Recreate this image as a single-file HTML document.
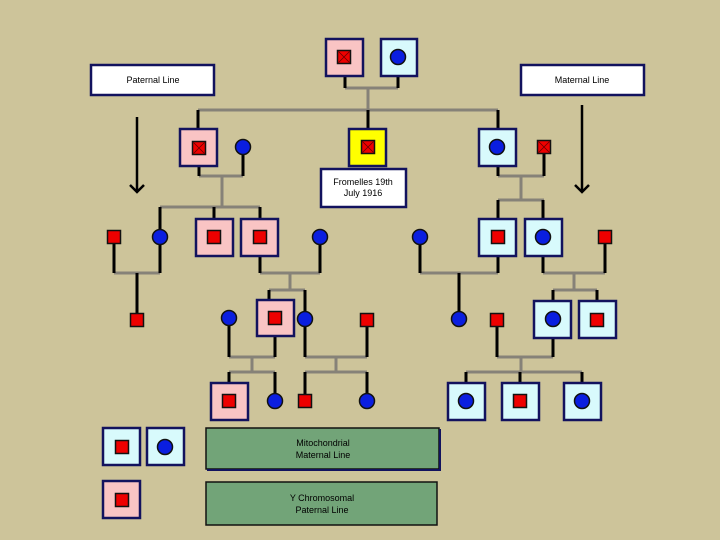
<!DOCTYPE html>
<html><head><meta charset="utf-8"><style>
html,body{margin:0;padding:0;background:#cdc49a;}
svg{display:block;}
text{font-family:"Liberation Sans",sans-serif;font-size:9px;fill:#000;}
</style></head><body>
<svg width="720" height="540" viewBox="0 0 720 540" xmlns="http://www.w3.org/2000/svg">
<defs>
<g id="rs"><rect x="-6.5" y="-6.5" width="13" height="13" fill="#ee0000" stroke="#111" stroke-width="1.5"/></g>
<g id="bc"><circle r="7.5" fill="#0a1ee0" stroke="#111" stroke-width="1.5"/></g>
</defs>
<rect width="720" height="540" fill="#cdc49a"/>
<g stroke="#868278" stroke-width="3" fill="none">
<path d="M345 88H398M368 88V110M198 110H498"/>
<path d="M199 176H243M222 176V207M160 207H260"/>
<path d="M498 176H544M521 176V200M498 200H544"/>
<path d="M114 273H160M260 273H320M290 273V290M269 290H305"/>
<path d="M420 273H498M543 273H605M574 273V290M553 290H597"/>
<path d="M229 357H275M252 357V372M229 372H275"/>
<path d="M305 357H367M336 357V372M305 372H367"/>
<path d="M497 357H553M521 357V372M466 372H582"/>
</g>
<g stroke="#000" stroke-width="3" fill="none">
<path d="M345 76V88M398 76V88M368 110V129M198 110V129M498 110V129"/>
<path d="M199 166V176M243 147V176M160 207V237M214 207V219M260 207V219"/>
<path d="M498 166V176M544 147V176M498 200V219M543 200V219"/>
<path d="M114 237V273M160 237V273M137 273V320M260 256V273M320 237V273M269 290V300M305 290V319"/>
<path d="M420 237V273M498 256V273M459 273V319M543 256V273M605 237V273M553 290V301M597 290V301"/>
<path d="M229 318V357M275 336V357M229 372V383M275 372V401"/>
<path d="M305 319V357M367 320V357M305 372V401M367 372V401"/>
<path d="M497 320V357M553 338V357M466 372V383M520 372V383M582 372V383"/>
</g>
<g stroke="#000" stroke-width="2.5" fill="none">
<path d="M137 117V192M130 185L137 192L144 185"/>
<path d="M582 105V192M575 185L582 192L589 185"/>
</g>
<g stroke="#12125e" stroke-width="2.5" fill="#fff">
<rect x="91" y="65" width="123" height="30"/>
<rect x="521" y="65" width="123" height="30"/>
<rect x="321" y="169" width="85" height="38"/>
</g>
<text x="153" y="83" text-anchor="middle">Paternal Line</text>
<text x="582" y="83" text-anchor="middle">Maternal Line</text>
<text x="363" y="185" text-anchor="middle">Fromelles 19th</text>
<text x="363" y="196" text-anchor="middle">July 1916</text>
<g stroke="#12125e" stroke-width="2.5">
<rect x="326" y="39" width="37" height="37" fill="#f9c4c4"/>
<rect x="381" y="39" width="36" height="37" fill="#d8fafc"/>
<rect x="180" y="129" width="37" height="37" fill="#f9c4c4"/>
<rect x="349" y="129" width="37" height="37" fill="#ffff00"/>
<rect x="479" y="129" width="37" height="37" fill="#d8fafc"/>
<rect x="196" y="219" width="37" height="37" fill="#f9c4c4"/>
<rect x="241" y="219" width="37" height="37" fill="#f9c4c4"/>
<rect x="479" y="219" width="37" height="37" fill="#d8fafc"/>
<rect x="525" y="219" width="37" height="37" fill="#d8fafc"/>
<rect x="257" y="300" width="37" height="36" fill="#f9c4c4"/>
<rect x="534" y="301" width="37" height="37" fill="#d8fafc"/>
<rect x="579" y="301" width="37" height="37" fill="#d8fafc"/>
<rect x="211" y="383" width="37" height="37" fill="#f9c4c4"/>
<rect x="448" y="383" width="37" height="37" fill="#d8fafc"/>
<rect x="502" y="383" width="37" height="37" fill="#d8fafc"/>
<rect x="564" y="383" width="37" height="37" fill="#d8fafc"/>
<rect x="103" y="428" width="37" height="37" fill="#d8fafc"/>
<rect x="147" y="428" width="37" height="37" fill="#d8fafc"/>
<rect x="103" y="481" width="37" height="37" fill="#f9c4c4"/>
</g>
<use href="#rs" x="344" y="57"/><use href="#bc" x="398" y="57"/>
<use href="#rs" x="199" y="148"/><use href="#bc" x="243" y="147"/>
<use href="#rs" x="368" y="147"/><use href="#bc" x="497" y="147"/><use href="#rs" x="544" y="147"/>
<g stroke="#600" stroke-width="0.8"><path d="M338 51L350 63M350 51L338 63M193 142L205 154M205 142L193 154M362 141L374 153M374 141L362 153M538 141L550 153M550 141L538 153"/></g>
<use href="#rs" x="114" y="237"/><use href="#bc" x="160" y="237"/>
<use href="#rs" x="214" y="237"/><use href="#rs" x="260" y="237"/>
<use href="#bc" x="320" y="237"/><use href="#bc" x="420" y="237"/>
<use href="#rs" x="498" y="237"/><use href="#bc" x="543" y="237"/><use href="#rs" x="605" y="237"/>
<use href="#rs" x="137" y="320"/><use href="#bc" x="229" y="318"/>
<use href="#rs" x="275" y="318"/><use href="#bc" x="305" y="319"/>
<use href="#rs" x="367" y="320"/><use href="#bc" x="459" y="319"/>
<use href="#rs" x="497" y="320"/><use href="#bc" x="553" y="319"/><use href="#rs" x="597" y="320"/>
<use href="#rs" x="229" y="401"/><use href="#bc" x="275" y="401"/>
<use href="#rs" x="305" y="401"/><use href="#bc" x="367" y="401"/>
<use href="#bc" x="466" y="401"/><use href="#rs" x="520" y="401"/><use href="#bc" x="582" y="401"/>
<use href="#rs" x="122" y="447"/><use href="#bc" x="165" y="447"/><use href="#rs" x="122" y="500"/>
<rect x="206" y="428" width="233" height="41" fill="#72a478" stroke="#111" stroke-width="1.5"/>
<path d="M207 470H440V429" stroke="#12125e" stroke-width="2" fill="none"/>
<rect x="206" y="482" width="231" height="43" fill="#72a478" stroke="#111" stroke-width="1.5"/>
<text x="323" y="446" text-anchor="middle">Mitochondrial</text>
<text x="323" y="458" text-anchor="middle">Maternal Line</text>
<text x="322" y="501" text-anchor="middle">Y Chromosomal</text>
<text x="322" y="513" text-anchor="middle">Paternal Line</text>
</svg>
</body></html>
